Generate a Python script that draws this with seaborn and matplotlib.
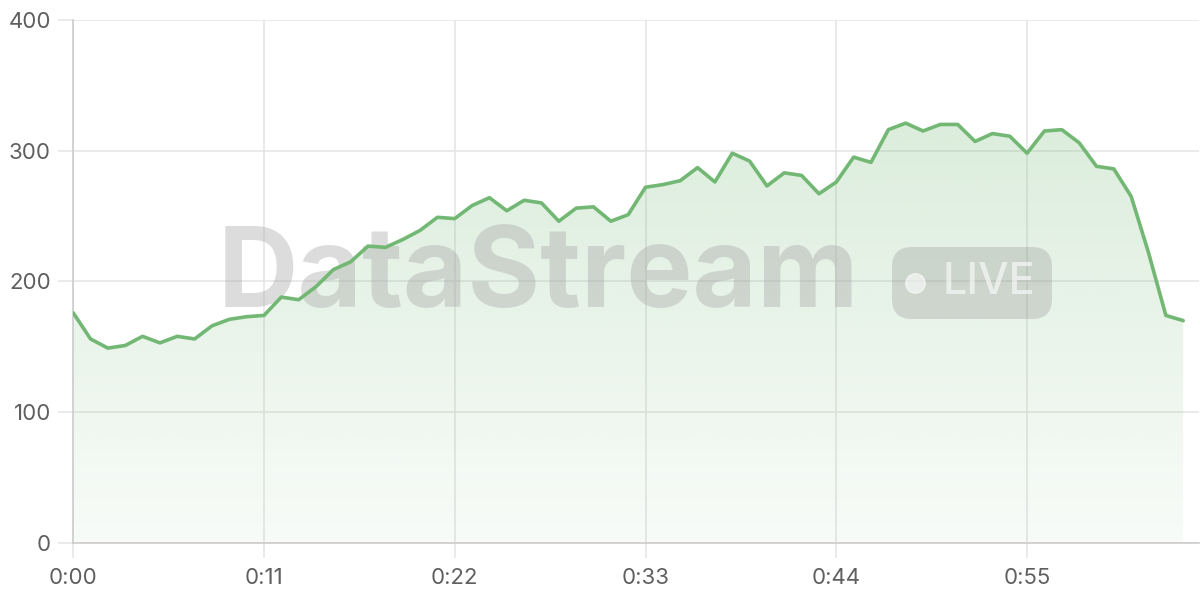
import numpy as np
import pandas as pd
import matplotlib.pyplot as plt
import matplotlib.transforms as mtransforms
import seaborn as sns
from matplotlib.patches import Polygon, FancyBboxPatch

# ---------------- THEME & COLORS ----------------
sns.set_theme(style="white")
plt.rcParams["font.family"] = ["Inter", "DejaVu Sans"]

LINE_GREEN = "#72b874"
GRID = "#e4e4e4"
AXIS = "#cccccc"
TEXT = "#5f5f5f"
WATERMARK = "#a8a8a8"

# ---------------- DATA ----------------
minutes = list(range(65))
viewers = [
    176, 156, 149, 151, 158, 153, 158, 156, 166, 171,
    173, 174, 188, 186, 196, 209, 215, 227, 226, 232,
    239, 249, 248, 258, 264, 254, 262, 260, 246, 256,
    257, 246, 251, 272, 274, 277, 287, 276, 298, 292,
    273, 283, 281, 267, 276, 295, 291, 316, 321, 315,
    320, 320, 307, 313, 311, 298, 315, 316, 306, 288,
    286, 265, 222, 174, 170,
]
tick_minutes = [0, 11, 22, 33, 44, 55]
tick_labels = ["0:00", "0:11", "0:22", "0:33", "0:44", "0:55"]
y_ticks = [0, 100, 200, 300, 400]

df = pd.DataFrame({"minute": minutes, "viewers": viewers})

# ---------------- FIGURE ----------------
fig = plt.figure(figsize=(12, 6), dpi=100)
ax = fig.add_axes([0.061, 0.095, 0.938, 0.872])

x_max = 64.9
ax.set_xlim(0, x_max)
ax.set_ylim(0, 400)

# gradient fill under the line
poly_pts = np.column_stack([
    np.concatenate([[df.minute.iloc[0]], df.minute, [df.minute.iloc[-1]]]),
    np.concatenate([[0], df.viewers, [0]]),
])
clip = Polygon(poly_pts, closed=True, facecolor="none", edgecolor="none")
ax.add_patch(clip)
alpha = np.linspace(0.05, 0.30, 256).reshape(-1, 1)
rgb = np.array([114, 184, 116]) / 255
grad = np.zeros((256, 1, 4))
grad[..., :3] = rgb
grad[..., 3] = alpha
img = ax.imshow(grad, extent=[0, x_max, 0, 400], origin="lower",
                aspect="auto", zorder=1, interpolation="bicubic")
img.set_clip_path(clip)

# ---------------- WATERMARK ----------------
ax.text(0.413, 0.508, "DataStream", transform=ax.transAxes, ha="center",
        va="center", fontsize=80, fontweight="bold", color=WATERMARK,
        alpha=0.4, zorder=2)

# "LIVE" badge, placed in pixels
px = mtransforms.IdentityTransform()
badge = FancyBboxPatch((892, 281), 160, 72,
                       boxstyle="round,pad=0,rounding_size=20",
                       transform=px, facecolor="#8a8a8a", edgecolor="none",
                       alpha=0.28, zorder=3, clip_on=False)
ax.add_patch(badge)
ax.plot([0.748], [0.497], transform=ax.transAxes, marker="o",
        markersize=14, color="white", alpha=0.6, linestyle="none", zorder=3)
ax.text(0.772, 0.497, "LIVE", transform=ax.transAxes, ha="left",
        va="center", fontsize=31, fontweight="medium", color="white",
        alpha=0.6, zorder=3)

sns.lineplot(data=df, x="minute", y="viewers", color=LINE_GREEN,
             linewidth=2.6, ax=ax, zorder=4)

# ---------------- AXES STYLE ----------------
ax.set_xticks(tick_minutes)
ax.set_xticklabels(tick_labels)
ax.set_yticks(y_ticks)
ax.grid(True, color=GRID, linewidth=1.1, zorder=0)
ax.set_axisbelow(True)
ax.set_xlabel("")
ax.set_ylabel("")

for side in ["top", "right"]:
    ax.spines[side].set_visible(False)
for side in ["left", "bottom"]:
    ax.spines[side].set_color(AXIS)
    ax.spines[side].set_linewidth(1.2)

ax.tick_params(axis="both", colors=GRID, labelcolor=TEXT, labelsize=16,
               length=11, width=1.1, left=True, bottom=True)
ax.tick_params(axis="y", pad=5)
ax.tick_params(axis="x", pad=7)

fig.savefig("out.png", dpi=100)
